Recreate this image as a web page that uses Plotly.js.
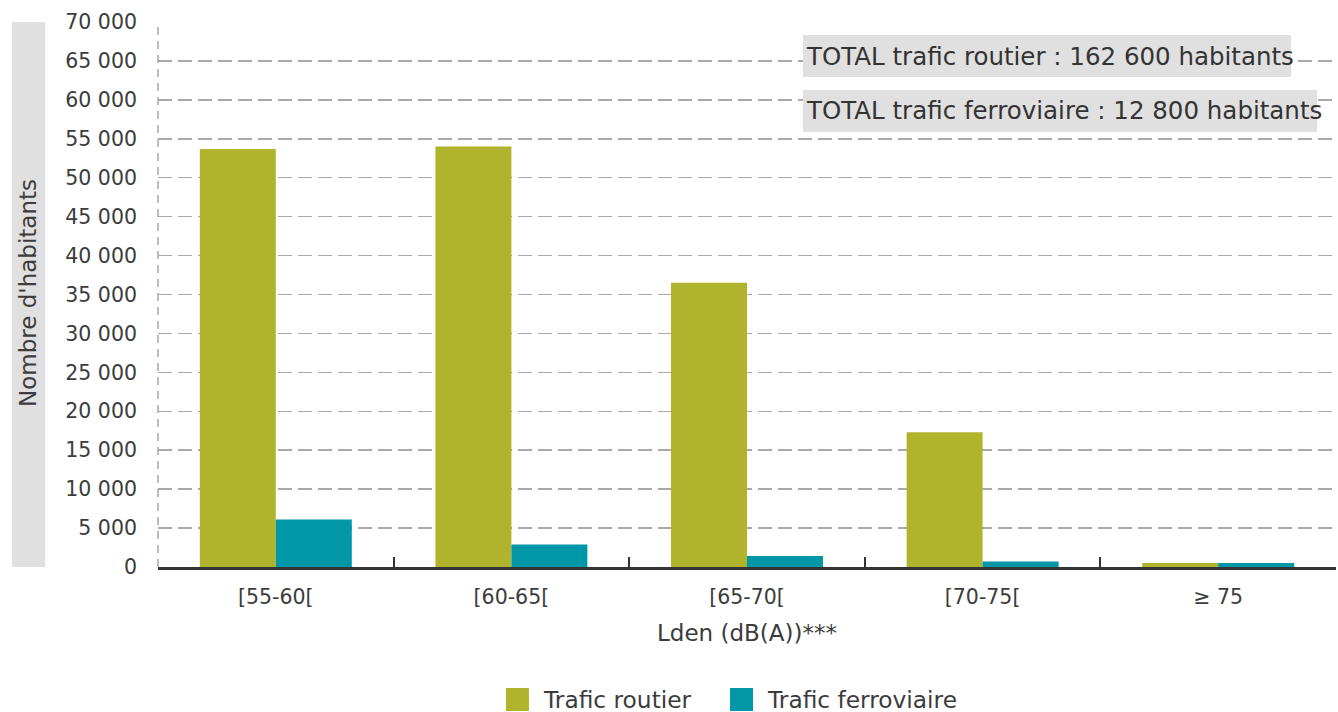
<!DOCTYPE html>
<html>
<head>
<meta charset="utf-8">
<script src="https://cdn.plot.ly/plotly-3.0.1.min.js"></script>
<style>
  html, body { margin: 0; padding: 0; background: #fff; }
  #chart { width: 1338px; height: 712px; }
</style>
</head>
<body>
<div id="chart"></div>
<script>
const categories = ['[55-60[', '[60-65[', '[65-70[', '[70-75[', '≥ 75'];
const routier = [53700, 54000, 36500, 17300, 500];
const ferroviaire = [6100, 2900, 1400, 700, 500];
const seriesNames = ['Trafic routier', 'Trafic ferroviaire'];
const seriesColors = ['#b0b42d', '#0097a7'];
const totalLabels = ['TOTAL trafic routier : 162 600 habitants', 'TOTAL trafic ferroviaire : 12 800 habitants'];
const yTitle = "Nombre d'habitants";
const xTitle = 'Lden (dB(A))***';

const FONT = 'DejaVu Sans, sans-serif';
const TXT = '#3c3c3c';

const traces = [
  { type: 'bar', name: seriesNames[0], x: categories, y: routier,
    marker: { color: seriesColors[0], line: { width: 0 } }, hoverinfo: 'x+y' },
  { type: 'bar', name: seriesNames[1], x: categories, y: ferroviaire,
    marker: { color: seriesColors[1], line: { width: 0 } }, hoverinfo: 'x+y' }
];

// legend drawn as swatches + labels (positions in paper units)
const legendX = [0.2954, 0.4856];
const legendSwatchW = 0.0195;
const legendY0 = -0.2642, legendY1 = -0.2220, legendYc = -0.2431;

const shapes = [
  { type: 'rect', xref: 'paper', yref: 'paper', x0: -0.1239, x1: -0.0959, y0: 0, y1: 1,
    fillcolor: '#e0e0e0', line: { width: 0 }, layer: 'below' },
  { type: 'line', xref: 'paper', yref: 'paper', x0: 0, x1: 0, y0: 0, y1: 1,
    line: { color: '#a9a9a9', width: 1.5, dash: '8px,6px' }, layer: 'above' },
  { type: 'rect', xref: 'paper', yref: 'paper', x0: 0.5475, x1: 0.9618, y0: 0.8991, y1: 0.9761,
    fillcolor: '#e0e0e0', line: { width: 0 }, layer: 'above' },
  { type: 'rect', xref: 'paper', yref: 'paper', x0: 0.5475, x1: 0.9839, y0: 0.7982, y1: 0.8752,
    fillcolor: '#e0e0e0', line: { width: 0 }, layer: 'above' }
];
const annotations = [
  { xref: 'paper', yref: 'paper', x: 0.5484, y: 0.9376, xanchor: 'left', yanchor: 'middle',
    text: totalLabels[0], showarrow: false, font: { family: FONT, size: 24.5, color: '#333' } },
  { xref: 'paper', yref: 'paper', x: 0.5484, y: 0.8367, xanchor: 'left', yanchor: 'middle',
    text: totalLabels[1], showarrow: false, font: { family: FONT, size: 24.5, color: '#333' } },
  { xref: 'paper', yref: 'paper', x: -0.1099, y: 0.502, xanchor: 'center', yanchor: 'middle',
    text: yTitle, textangle: -90, showarrow: false, font: { family: FONT, size: 23, color: TXT } },
  { xref: 'paper', yref: 'paper', x: 0.5, y: -0.1211, xanchor: 'center', yanchor: 'middle',
    text: xTitle, showarrow: false, font: { family: FONT, size: 23, color: TXT } }
];
seriesNames.forEach(function (name, i) {
  shapes.push({ type: 'rect', xref: 'paper', yref: 'paper',
    x0: legendX[i], x1: legendX[i] + legendSwatchW, y0: legendY0, y1: legendY1,
    fillcolor: seriesColors[i], line: { width: 0 }, layer: 'above' });
  annotations.push({ xref: 'paper', yref: 'paper', x: legendX[i] + 0.0297, y: legendYc,
    xanchor: 'left', yanchor: 'middle', text: name, showarrow: false,
    font: { family: FONT, size: 23.3, color: TXT } });
});

const layout = {
  width: 1338, height: 712,
  margin: { l: 158, r: 2, t: 22, b: 145, autoexpand: false },
  paper_bgcolor: '#fff', plot_bgcolor: '#fff',
  font: { family: FONT, size: 23, color: TXT },
  separators: ', ',
  barmode: 'group', bargap: 0.355, bargroupgap: 0,
  showlegend: false,
  xaxis: {
    type: 'category',
    tickson: 'boundaries',
    ticks: 'inside', ticklen: 10, tickwidth: 2, tickcolor: '#333',
    showline: true, linecolor: '#333', linewidth: 2.5,
    showgrid: false, zeroline: false,
    tickfont: { family: FONT, size: 20.5, color: TXT },
    ticklabelstandoff: 10
  },
  yaxis: {
    range: [0, 70000], dtick: 5000, tickformat: ',d',
    showgrid: true, gridcolor: '#a9a9a9', gridwidth: 1.5, griddash: '14px,6px',
    zeroline: false, showline: false, ticks: '',
    tickfont: { family: FONT, size: 20.5, color: TXT },
    ticklabelstandoff: 20
  },
  shapes: shapes,
  annotations: annotations
};

Plotly.newPlot('chart', traces, layout, { displayModeBar: false, staticPlot: true });
</script>
</body>
</html>
